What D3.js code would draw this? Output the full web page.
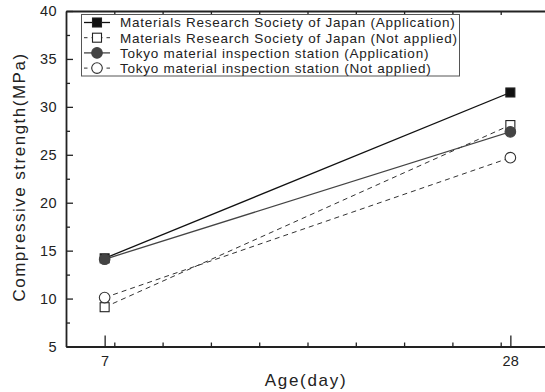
<!DOCTYPE html>
<html>
<head>
<meta charset="utf-8">
<script src="https://cdn.jsdelivr.net/npm/d3@7"></script>
<style>
  body { margin: 0; background: #fff; }
  text { font-family: "Liberation Sans", Arial, sans-serif; fill: #222; }
</style>
</head>
<body>
<svg id="chart" width="545" height="392"></svg>
<script>
// data
const ages = [7, 28];
const seriesNames = [
  "Materials Research Society of Japan (Application)",
  "Materials Research Society of Japan (Not applied)",
  "Tokyo material inspection station (Application)",
  "Tokyo material inspection station (Not applied)"
];
const mrsjApplied = [14.2, 31.5];
const mrsjNotApplied = [9.1, 28.1];
const tokyoApplied = [14.1, 27.4];
const tokyoNotApplied = [10.1, 24.7];
const yTicks = [5, 10, 15, 20, 25, 30, 35, 40];

const series = [
  { name: seriesNames[0], values: mrsjApplied, shape: "square", filled: true, dash: null, color: "#111" },
  { name: seriesNames[1], values: mrsjNotApplied, shape: "square", filled: false, dash: "5,4", color: "#333" },
  { name: seriesNames[2], values: tokyoApplied, shape: "circle", filled: true, dash: null, color: "#444" },
  { name: seriesNames[3], values: tokyoNotApplied, shape: "circle", filled: false, dash: "5,4", color: "#333" }
];

const svg = d3.select("#chart");

const x = d3.scaleLinear().domain([5, 30]).range([66, 549]);
const y = d3.scaleLinear().domain([5, 40]).range([346.5, 11]);

const xMinor = d3.range(7.5, 30, 2.5);
const yMinor = d3.range(7.5, 40, 5);

// frame / axes
const axisG = svg.append("g");

axisG.append("g")
  .attr("transform", "translate(0,346.5)")
  .call(d3.axisBottom(x).tickValues(xMinor).tickSize(-4).tickFormat(""))
  .call(g => g.select(".domain").remove());
axisG.append("g")
  .attr("class", "xaxis")
  .attr("transform", "translate(0,346.5)")
  .call(d3.axisBottom(x).tickValues(ages).tickSizeInner(-11).tickSizeOuter(0).tickPadding(9));

axisG.append("g")
  .attr("transform", "translate(0,11)")
  .call(d3.axisTop(x).tickValues(xMinor).tickSize(-4).tickFormat(""))
  .call(g => g.select(".domain").remove());
axisG.append("g")
  .attr("transform", "translate(0,11)")
  .call(d3.axisTop(x).tickValues([]).tickSizeOuter(0));

axisG.append("g")
  .attr("transform", "translate(66,0)")
  .call(d3.axisLeft(y).tickValues(yMinor).tickSize(-4).tickFormat(""))
  .call(g => g.select(".domain").remove());
axisG.append("g")
  .attr("class", "yaxis")
  .attr("transform", "translate(66,0)")
  .call(d3.axisLeft(y).tickValues(yTicks).tickSizeInner(-7).tickSizeOuter(0).tickPadding(9));

axisG.selectAll(".domain").attr("stroke", "#222").attr("stroke-width", 1.8);
axisG.selectAll(".tick line").attr("stroke", "#222").attr("stroke-width", 1.3);
axisG.selectAll(".tick text")
  .attr("font-size", 14.5)
  .attr("font-family", "Liberation Sans, Arial, sans-serif")
  .attr("letter-spacing", 0.4)
  .attr("fill", "#222");

// axis titles
svg.append("text")
  .attr("x", 306).attr("y", 386)
  .attr("text-anchor", "middle")
  .attr("font-size", 17)
  .attr("letter-spacing", 1.7)
  .text("Age(day)");

svg.append("text")
  .attr("transform", "translate(25,177) rotate(-90)")
  .attr("text-anchor", "middle")
  .attr("font-size", 17)
  .attr("letter-spacing", 1.5)
  .text("Compressive strength(MPa)");

// lines and markers
const line = d3.line()
  .x((d, i) => x(ages[i]))
  .y(d => y(d));

function drawMarker(g, s, cx, cy) {
  if (s.shape === "square") {
    g.append("rect")
      .attr("x", cx - 4.5).attr("y", cy - 4.5)
      .attr("width", 9).attr("height", 9)
      .attr("fill", s.filled ? "#111" : "#fff")
      .attr("stroke", "#222").attr("stroke-width", 1.1);
  } else {
    g.append("circle")
      .attr("cx", cx).attr("cy", cy).attr("r", 5.3)
      .attr("fill", s.filled ? "#444" : "#fff")
      .attr("stroke", s.filled ? "#444" : "#333").attr("stroke-width", 1.1);
  }
}

const plot = svg.append("g");
series.forEach(s => {
  plot.append("path")
    .datum(s.values)
    .attr("d", line)
    .attr("fill", "none")
    .attr("stroke", s.color)
    .attr("stroke-width", s.dash ? 1 : 1.3)
    .attr("stroke-dasharray", s.dash);
});
series.forEach(s => {
  s.values.forEach((v, i) => drawMarker(plot, s, x(ages[i]), y(v)));
});

// legend
const legend = svg.append("g");
legend.append("rect")
  .attr("x", 81.5).attr("y", 14.5)
  .attr("width", 378).attr("height", 61.5)
  .attr("fill", "#fff")
  .attr("stroke", "#555").attr("stroke-width", 1);

series.forEach((s, i) => {
  const cy = 22.5 + i * 15.2;
  const row = legend.append("g");
  row.append("line")
    .attr("x1", 84).attr("x2", 110)
    .attr("y1", cy).attr("y2", cy)
    .attr("stroke", s.color)
    .attr("stroke-width", s.dash ? 1 : 1.3)
    .attr("stroke-dasharray", s.dash ? "3.5,4" : null);
  drawMarker(row, s, 97, cy);
  row.append("text")
    .attr("x", 120).attr("y", cy + 4.8)
    .attr("font-size", 13.5)
    .attr("letter-spacing", 0.75)
    .text(s.name);
});
</script>
</body>
</html>
